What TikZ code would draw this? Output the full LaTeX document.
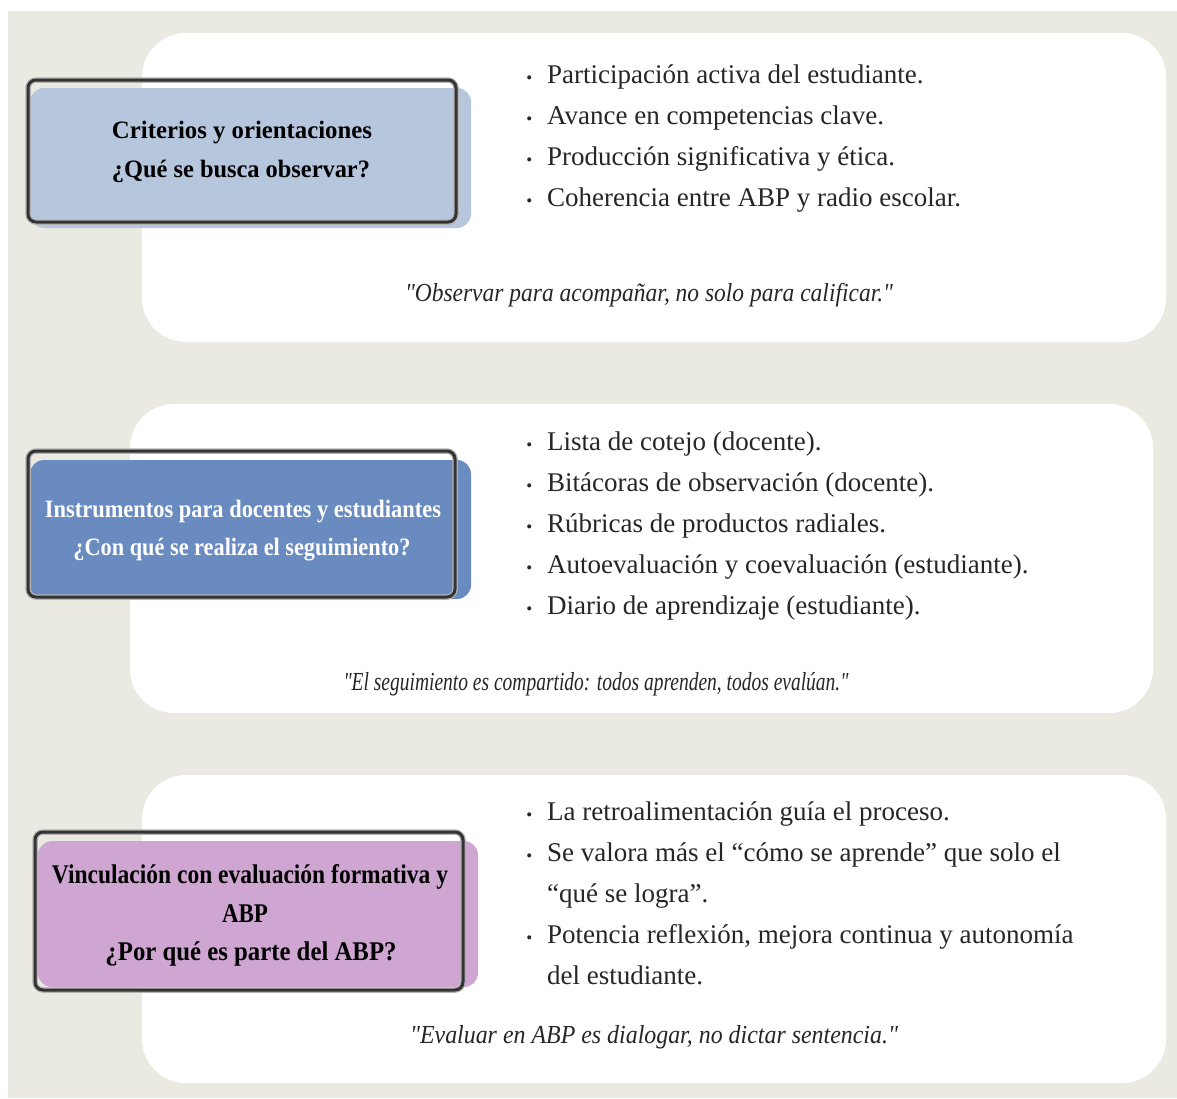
\documentclass[tikz,border=0pt]{standalone}
\usepackage{fontspec}
\setmainfont{Liberation Serif}[Ligatures=TeXOff]
\usepackage{graphicx}
\definecolor{bg}{HTML}{EAE9E2}
\definecolor{fillA}{HTML}{B5C6DD}
\definecolor{fillB}{HTML}{6A8BC0}
\definecolor{fillC}{HTML}{CFA6D2}
\definecolor{framec}{HTML}{333333}
\definecolor{txt}{HTML}{262626}
\newcommand{\fitw}[2]{\resizebox{#1}{\height}{#2}}
\newcommand{\bdot}{\llap{{\fontsize{17}{17}\selectfont •}\hspace{15pt}}}
\begin{document}
\begin{tikzpicture}[x=1pt,y=-1pt,
  panel/.style={fill=white, rounded corners=44pt},
  boxfill/.style={rounded corners=14pt},
  boxframe/.style={draw=framec, line width=3pt, rounded corners=8pt},
  boxhalo/.style={draw=black!30, line width=5.5pt, rounded corners=8pt},
  title/.style={anchor=base, inner sep=0pt, font=\bfseries\fontsize{25}{25}\selectfont, text=black},
  item/.style={anchor=base west, inner sep=0pt, font=\fontsize{27}{27}\selectfont, text=txt},
  quote/.style={anchor=base, inner sep=0pt, font=\itshape\fontsize{26}{26}\selectfont, text=txt}]
\useasboundingbox (0,0) rectangle (1177,1098);
\fill[white] (0,0) rectangle (1177,1098);
\fill[bg] (8,11) rectangle (1177,1098);

% panels
\fill[panel] (142,33) rectangle (1166,342);
\fill[panel] (130,404) rectangle (1153,713);
\fill[panel] (142,775) rectangle (1166,1083);

% box 1
\fill[fillA, boxfill] (30,88) rectangle (471,228);
\draw[boxhalo] (28,80) rectangle (456,222);
\draw[boxframe] (28,80) rectangle (456,222);
\node[title] (t1a) at (242,138) {\fitw{260pt}{Criterios y orientaciones}};
\node[title] (t1b) at (241,177) {\fitw{258pt}{¿Qué se busca observar?}};

% box 2
\fill[fillB, boxfill] (30,460) rectangle (471,599);
\draw[boxhalo] (28,451) rectangle (455,597);
\draw[boxframe] (28,451) rectangle (455,597);
\node[title, text=white] (t2a) at (243,517) {\fitw{396pt}{Instrumentos para docentes y estudiantes}};
\node[title, text=white] (t2b) at (242,555) {\fitw{337pt}{¿Con qué se realiza el seguimiento?}};

% box 3
\fill[fillC, boxfill] (38,841) rectangle (478,987);
\draw[boxhalo] (35,832) rectangle (463,990);
\draw[boxframe] (35,832) rectangle (463,990);
\node[title, font=\bfseries\fontsize{27}{27}\selectfont] (t3a) at (250,883) {\fitw{396pt}{Vinculación con evaluación formativa y}};
\node[title, font=\bfseries\fontsize{27}{27}\selectfont] (t3b) at (245,922) {\fitw{46pt}{ABP}};
\node[title, font=\bfseries\fontsize{27}{27}\selectfont] (t3c) at (251,960) {\fitw{291pt}{¿Por qué es parte del ABP?}};

% panel 1 items
\node[item] (i11) at (547,83) {\bdot Participación activa del estudiante.};
\node[item] (i12) at (547,124) {\bdot Avance en competencias clave.};
\node[item] (i13) at (547,165) {\bdot Producción significativa y ética.};
\node[item] (i14) at (547,206) {\bdot Coherencia entre ABP y radio escolar.};
\node[quote] (q1) at (649,301) {\fitw{488pt}{"Observar para acompañar, no solo para calificar."}};

% panel 2 items
\node[item] (i21) at (547,450) {\bdot Lista de cotejo (docente).};
\node[item] (i22) at (547,491) {\bdot Bitácoras de observación (docente).};
\node[item] (i23) at (547,532) {\bdot Rúbricas de productos radiales.};
\node[item] (i24) at (547,573) {\bdot Autoevaluación y coevaluación (estudiante).};
\node[item] (i25) at (547,614) {\bdot Diario de aprendizaje (estudiante).};
\node[quote] (q2) at (596,690) {\fitw{505pt}{"El seguimiento es compartido: todos aprenden, todos evalúan."}};

% panel 3 items
\node[item] (i31) at (547,820) {\bdot La retroalimentación guía el proceso.};
\node[item] (i32) at (547,861) {\bdot Se valora más el “cómo se aprende” que solo el};
\node[item] (i32b) at (547,902) {“qué se logra”.};
\node[item] (i33) at (547,943) {\bdot Potencia reflexión, mejora continua y autonomía};
\node[item] (i33b) at (547,984) {del estudiante.};
\node[quote] (q3) at (654,1043) {\fitw{488pt}{"Evaluar en ABP es dialogar, no dictar sentencia."}};
\end{tikzpicture}
\end{document}
